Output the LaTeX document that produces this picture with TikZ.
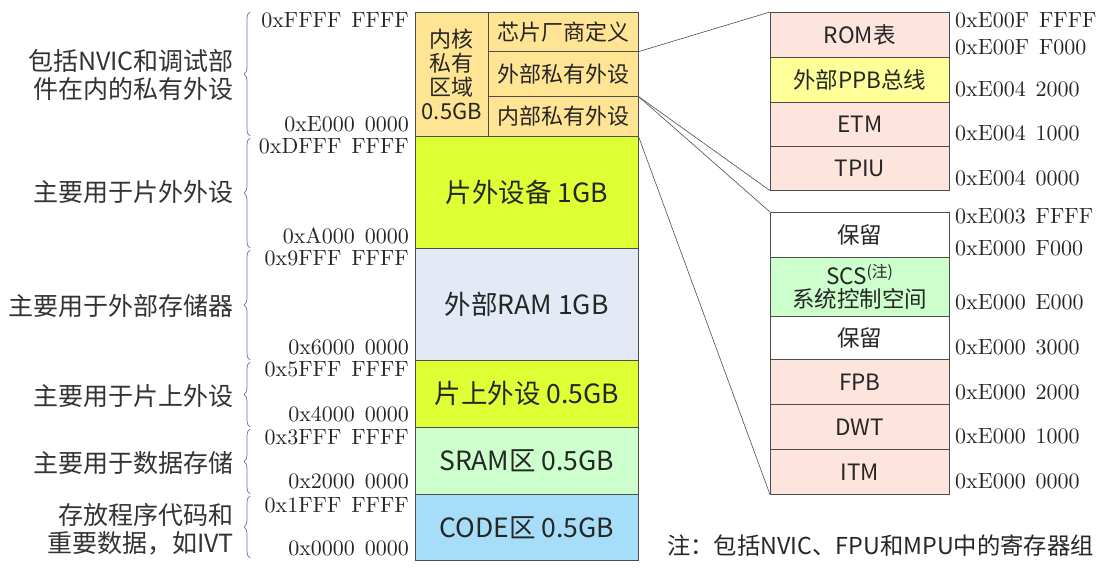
\documentclass[tikz,border=0pt]{standalone}
\usepackage{fontspec}
\newfontfamily\cjk{Noto Sans CJK SC}
\newfontfamily\adrfont{lmroman10-regular}[Extension=.otf]
\usetikzlibrary{decorations.pathreplacing}
\definecolor{coreY}{HTML}{FFE494}
\definecolor{limeG}{HTML}{DDFF33}
\definecolor{ramB}{HTML}{E3EAF5}
\definecolor{sramG}{HTML}{CCFFCC}
\definecolor{codeB}{HTML}{A6DEFA}
\definecolor{pinkR}{HTML}{FDE4DC}
\definecolor{ppbY}{HTML}{FFFF99}
\definecolor{braceC}{HTML}{6E6EA8}
\tikzset{
  cell/.style={draw=black!70, line width=0.6pt, inner sep=0pt, anchor=north west, align=center, text=black!85},
  bigtxt/.style={font=\cjk\fontsize{26.5}{30}\selectfont},
  midtxt/.style={font=\cjk\fontsize{22}{26}\selectfont},
  rtxt/.style={font=\cjk\fontsize{22.5}{27}\selectfont},
  addr/.style={font=\adrfont\fontsize{22}{24}\selectfont, inner sep=0pt, text=black!85},
  lbl/.style={font=\cjk\fontsize{25}{29}\selectfont, inner sep=0pt, align=right, anchor=east, text=black!80},
  brc/.style={draw=braceC, line width=0.7pt, decorate, decoration={brace, amplitude=6pt, aspect=0.5}},
  conn/.style={draw=black!70, line width=0.6pt}
}
\newcommand{\adr}[2]{#1\hspace{0.45em}#2}
\begin{document}
\begin{tikzpicture}[x=1pt,y=-1pt]
\useasboundingbox (0,0) rectangle (1101,569);
% main column
\node[cell, fill=coreY, minimum width=73pt, minimum height=124pt, midtxt] (core) at (415,12) {内核\\[-2pt]私有\\[-2pt]区域\\[-2pt]0.5GB};
\node[cell, fill=coreY, minimum width=150pt, minimum height=39pt, midtxt] (vend) at (488,12) {芯片厂商定义};
\node[cell, fill=coreY, minimum width=150pt, minimum height=45pt, midtxt] (extp) at (488,51) {外部私有外设};
\node[cell, fill=coreY, minimum width=150pt, minimum height=40pt, midtxt] (intp) at (488,96) {内部私有外设};
\node[cell, fill=limeG, minimum width=223pt, minimum height=112pt, bigtxt] (offc) at (415,136) {片外设备 1GB};
\node[cell, fill=ramB, minimum width=223pt, minimum height=112pt, bigtxt] (eram) at (415,248) {外部RAM 1GB};
\node[cell, fill=limeG, minimum width=223pt, minimum height=67pt, bigtxt] (onp) at (415,360) {片上外设 0.5GB};
\node[cell, fill=sramG, minimum width=223pt, minimum height=67pt, bigtxt] (sram) at (415,427) {SRAM区 0.5GB};
\node[cell, fill=codeB, minimum width=223pt, minimum height=66pt, bigtxt] (code) at (415,494) {CODE区 0.5GB};
% right top panel
\node[cell, fill=pinkR, minimum width=179pt, minimum height=45pt, rtxt] (rom) at (770,12) {ROM表};
\node[cell, fill=ppbY, minimum width=179pt, minimum height=45pt, rtxt] (ppb) at (770,57) {外部PPB总线};
\node[cell, fill=pinkR, minimum width=179pt, minimum height=44pt, rtxt] (etm) at (770,102) {ETM};
\node[cell, fill=pinkR, minimum width=179pt, minimum height=44pt, rtxt] (tpiu) at (770,146) {TPIU};
% right bottom panel
\node[cell, fill=white, minimum width=179pt, minimum height=45pt, rtxt] (res1) at (770,212) {保留};
\node[cell, fill=sramG, minimum width=179pt, minimum height=59pt, rtxt] (scs) at (770,257) {SCS\textsuperscript{(注)}\\[-4pt]系统控制空间};
\node[cell, fill=white, minimum width=179pt, minimum height=43pt, rtxt] (res2) at (770,316) {保留};
\node[cell, fill=pinkR, minimum width=179pt, minimum height=45pt, rtxt] (fpb) at (770,359) {FPB};
\node[cell, fill=pinkR, minimum width=179pt, minimum height=45pt, rtxt] (dwt) at (770,404) {DWT};
\node[cell, fill=pinkR, minimum width=179pt, minimum height=45pt, rtxt] (itm) at (770,449) {ITM};
% connectors
\draw[conn] (vend.south east) -- (rom.north west);
\draw[conn] (extp.south east) -- (tpiu.south west);
\draw[conn] (extp.south east) -- (res1.north west);
\draw[conn] (intp.south east) -- (itm.south west);
% left addresses
\foreach \y/\a/\b in {20/0xFFFF/FFFF, 124/0xE000/0000, 146/0xDFFF/FFFF, 236/0xA000/0000, 258/0x9FFF/FFFF, 347/0x6000/0000, 369/0x5FFF/FFFF, 414/0x4000/0000, 437/0x3FFF/FFFF, 481/0x2000/0000, 505/0x1FFF/FFFF, 548/0x0000/0000}
  \node[addr, anchor=east] at (409,\y) {\adr{\a}{\b}};
% right addresses
\foreach \y/\a/\b in {20/0xE00F/FFFF, 47/0xE00F/F000, 89/0xE004/2000, 133/0xE004/1000, 178/0xE004/0000, 216/0xE003/FFFF, 248/0xE000/F000, 302/0xE000/E000, 347/0xE000/3000, 392/0xE000/2000, 436/0xE000/1000, 481/0xE000/0000}
  \node[addr, anchor=west] at (955,\y) {\adr{\a}{\b}};
% braces
\foreach \t/\b in {12/136, 138/248, 250/360, 362/427, 429/494, 496/558}
  \draw[brc] (250,\b) -- (250,\t);
% left labels
\node[lbl] (l1) at (234,75) {包括NVIC和调试部\\[-1pt]件在内的私有外设};
\node[lbl] (l2) at (234,192) {主要用于片外外设};
\node[lbl] (l3) at (234,306) {主要用于外部存储器};
\node[lbl] (l4) at (234,396) {主要用于片上外设};
\node[lbl] (l5) at (234,463) {主要用于数据存储};
\node[lbl] (l6) at (234,529) {存放程序代码和\\[-1pt]重要数据，如IVT};
% note
\node[font=\cjk\fontsize{23.3}{27}\selectfont, anchor=west, inner sep=0pt, text=black!85] (note) at (667,546) {注：包括NVIC、FPU和MPU中的寄存器组};
\end{tikzpicture}
\end{document}
